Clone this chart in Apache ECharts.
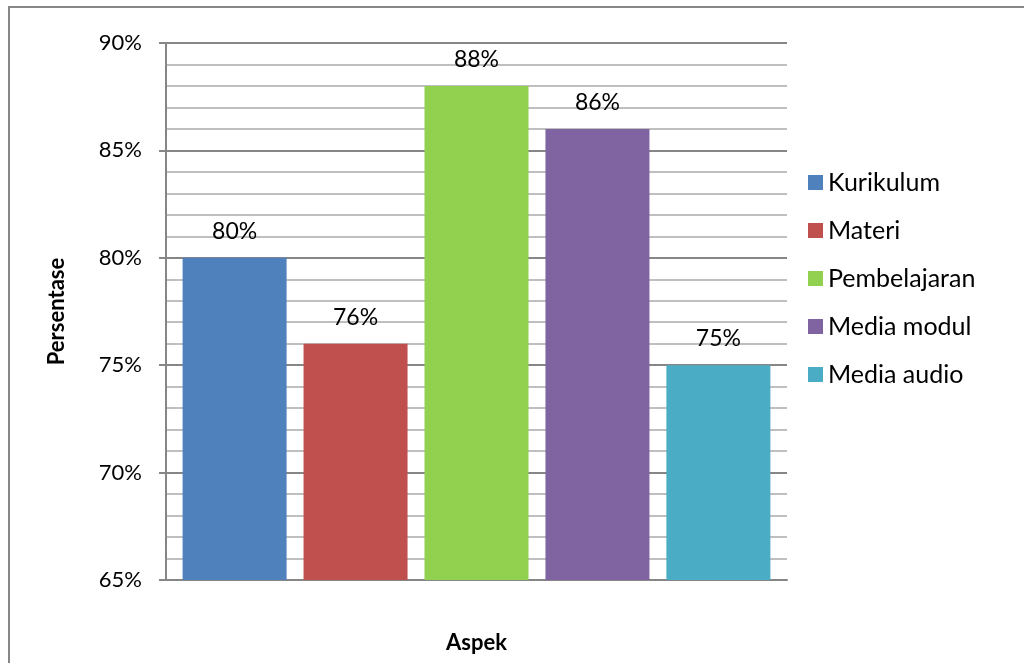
<!DOCTYPE html>
<html>
<head>
<meta charset="utf-8">
<script src="https://cdn.jsdelivr.net/npm/echarts@6/dist/echarts.min.js"></script>
<style>
  html, body { margin: 0; padding: 0; background: #fff; }
  #chart { width: 1024px; height: 663px; }
</style>
</head>
<body>
<div id="chart"></div>
<script>
// Survey results per aspect (percent)
const aspects = ['Kurikulum', 'Materi', 'Pembelajaran', 'Media modul', 'Media audio'];
const values = [80, 76, 88, 86, 75];
const colors = ['#4F81BD', '#C0504D', '#92D050', '#8064A2', '#4BACC6'];
const yTicks = [65, 70, 75, 80, 85, 90];

const FONT = 'Lato, "Open Sans", sans-serif';

const chart = echarts.init(document.getElementById('chart'));

const series = aspects.map((name, i) => ({
  name: name,
  type: 'bar',
  data: [values[i]],
  barWidth: 104,
  barGap: '16.3%',
  itemStyle: { color: colors[i] },
  label: {
    show: true,
    position: 'top',
    distance: 15,
    formatter: p => p.value + '%',
    fontFamily: FONT,
    fontSize: 23,
    color: '#000'
  }
}));

chart.setOption({
  animation: false,
  graphic: [{
    type: 'rect',
    shape: { x: 9, y: 7, width: 1100, height: 1000 },
    style: { fill: 'none', stroke: '#878787', lineWidth: 2 },
    z: -1
  }],
  grid: { left: 166, right: 237, top: 43, bottom: 83 },
  legend: {
    orient: 'vertical',
    left: 808,
    top: 170,
    padding: 0,
    itemWidth: 15,
    itemHeight: 15,
    itemGap: 23,
    icon: 'rect',
    textStyle: { fontFamily: FONT, fontSize: 25, color: '#000' },
    data: aspects
  },
  xAxis: {
    type: 'category',
    data: ['Aspek'],
    name: 'Aspek',
    nameLocation: 'middle',
    nameGap: 52,
    nameTextStyle: { fontFamily: FONT, fontSize: 22, fontWeight: 'bold', color: '#000' },
    axisLine: { lineStyle: { color: '#868686', width: 2 } },
    axisTick: { show: false },
    axisLabel: { show: false }
  },
  yAxis: {
    type: 'value',
    min: yTicks[0],
    max: yTicks[yTicks.length - 1],
    interval: 5,
    name: 'Persentase',
    nameLocation: 'middle',
    nameGap: 98,
    nameRotate: 90,
    nameTextStyle: { fontFamily: FONT, fontSize: 22, fontWeight: 'bold', color: '#000' },
    axisLine: { show: true, lineStyle: { color: '#868686', width: 2 } },
    axisTick: { show: true, length: 7, lineStyle: { color: '#868686', width: 2 } },
    axisLabel: {
      formatter: v => v + '%',
      fontFamily: FONT,
      fontSize: 22,
      color: '#000',
      margin: 24
    },
    splitLine: { show: true, lineStyle: { color: '#868686', width: 2 } },
    minorTick: { show: false, splitNumber: 5 },
    minorSplitLine: { show: true, lineStyle: { color: '#BFBFBF', width: 2 } }
  },
  series: series
});
</script>
</body>
</html>
